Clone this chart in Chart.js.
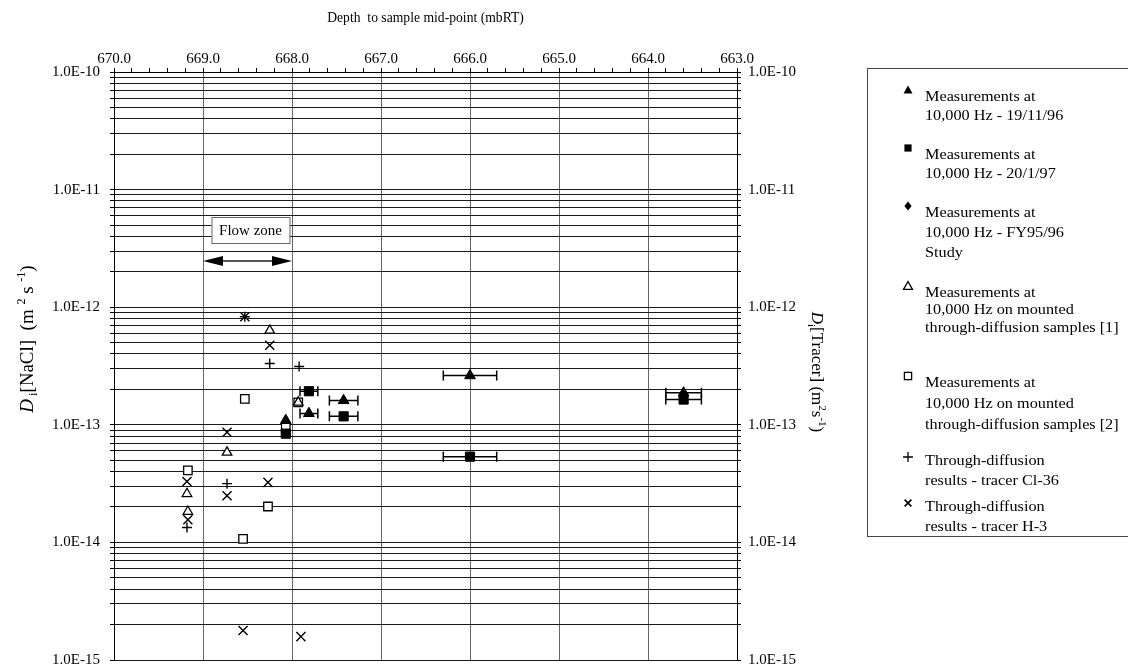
<!DOCTYPE html>
<html lang="en">
<head>
  <meta charset="UTF-8" />
  <title>Diffusion coefficient vs depth</title>
  <script src="https://cdn.jsdelivr.net/npm/chart.js"></script>
  <style>
    html, body { margin: 0; padding: 0; background: #fff; }
    canvas { display: block; }
  </style>
</head>
<body>
  <canvas id="chart" width="1128" height="668"></canvas>

  <script>
    // depth (mbRT), diffusion coefficient (m2/s), depth error bar half width
    const tri1Depth = [668.07, 667.81, 667.42, 666.0, 663.6];
    const tri1Value = [1.09e-13, 1.25e-13, 1.61e-13, 2.62e-13, 1.87e-13];
    const tri1Err   = [0, 0.1, 0.16, 0.3, 0.2];

    const sq1Depth = [668.07, 667.81, 667.42, 666.0, 663.6];
    const sq1Value = [8.41e-14, 1.93e-13, 1.18e-13, 5.36e-14, 1.64e-13];
    const sq1Err   = [0, 0.1, 0.16, 0.3, 0.2];

    const diaDepth = [];
    const diaValue = [];

    const triOpenDepth = [668.25, 667.93, 668.73, 669.18, 669.17];
    const triOpenValue = [6.34e-13, 1.55e-13, 5.83e-14, 2.59e-14, 1.83e-14];

    const sqOpenDepth = [668.53, 667.93, 668.07, 669.17, 668.27, 668.55];
    const sqOpenValue = [1.66e-13, 1.55e-13, 9.46e-14, 4.09e-14, 2.02e-14, 1.07e-14];

    const clDepth = [668.53, 668.25, 667.92, 668.73, 669.18];
    const clValue = [8.30e-13, 3.32e-13, 3.13e-13, 3.16e-14, 1.34e-14];

    const h3Depth = [668.53, 668.25, 668.73, 669.18, 669.17, 668.73, 668.27, 668.55, 667.9];
    const h3Value = [8.30e-13, 4.75e-13, 8.63e-14, 3.30e-14, 1.56e-14, 2.49e-14, 3.24e-14, 1.78e-15, 1.58e-15];

    const depthMin = 663, depthMax = 670;
    const valueMin = 1e-15, valueMax = 1e-10;

    const flowZone = [669, 668];
    const flowLabel = 'Flow zone';

    const legendLabels = [
      ['Measurements at', '10,000 Hz - 19/11/96'],
      ['Measurements at', '10,000 Hz - 20/1/97'],
      ['Measurements at', '10,000 Hz - FY95/96', 'Study'],
      ['Measurements at', '10,000 Hz on mounted', 'through-diffusion samples [1]'],
      ['Measurements at', '10,000 Hz on mounted', 'through-diffusion samples [2]'],
      ['Through-diffusion', 'results - tracer Cl-36'],
      ['Through-diffusion', 'results - tracer H-3']
    ];
    const legendMarkers = ['triFill', 'rectFill', 'diamond', 'triOpen', 'rectOpen', 'plus', 'cross'];

    const xTitle = 'Depth  to sample mid-point (mbRT)';

    const pts = (xs, ys) => xs.map((x, i) => ({ x: x, y: ys[i] }));
    const isInt = v => Math.abs(v - Math.round(v)) < 1e-6;
    const FONT = '"Liberation Serif", "Times New Roman", serif';

    function logTicks() {
      const t = [];
      for (let e = -15; e <= -10; e++) {
        for (let m = 1; m <= 9; m++) {
          if (e === -10 && m > 1) break;
          t.push({ value: Number(m + 'e' + e) });
        }
      }
      return t;
    }
    function logLabel(v) {
      const m = v / Math.pow(10, Math.floor(Math.log10(v) + 1e-9));
      if (Math.abs(m - 1) > 1e-6) return '';
      return v.toExponential(1).toUpperCase();
    }

    function drawMarker(ctx, type, x, y, s) {
      ctx.save();
      ctx.fillStyle = '#000';
      ctx.strokeStyle = '#000';
      ctx.lineWidth = 1.3;
      ctx.beginPath();
      if (type === 'triFill' || type === 'triOpen') {
        ctx.moveTo(x, y - s);
        ctx.lineTo(x + s, y + s * 0.75);
        ctx.lineTo(x - s, y + s * 0.75);
        ctx.closePath();
      } else if (type === 'rectFill' || type === 'rectOpen') {
        ctx.rect(x - s * 0.8, y - s * 0.8, s * 1.6, s * 1.6);
      } else if (type === 'diamond') {
        ctx.moveTo(x, y - s);
        ctx.lineTo(x + s * 0.8, y);
        ctx.lineTo(x, y + s);
        ctx.lineTo(x - s * 0.8, y);
        ctx.closePath();
      } else if (type === 'plus') {
        ctx.moveTo(x - s, y); ctx.lineTo(x + s, y);
        ctx.moveTo(x, y - s); ctx.lineTo(x, y + s);
      } else if (type === 'cross') {
        ctx.lineWidth = 1.6;
        const d = s * 0.75;
        ctx.moveTo(x - d, y - d); ctx.lineTo(x + d, y + d);
        ctx.moveTo(x + d, y - d); ctx.lineTo(x - d, y + d);
      }
      if (type === 'triFill' || type === 'rectFill' || type === 'diamond') ctx.fill();
      else if (type === 'triOpen' || type === 'rectOpen') { ctx.fillStyle = '#fff'; ctx.fill(); ctx.stroke(); }
      else ctx.stroke();
      ctx.restore();
    }

    // rich text with italic / sub / sup pieces, optionally rotated
    function drawRich(ctx, segs, cx, cy, angle, size) {
      const fontOf = s => (s.italic ? 'italic ' : '') + ((s.sub || s.sup) ? Math.round(size * 0.65) : size) + 'px ' + FONT;
      let w = 0;
      segs.forEach(s => { ctx.font = fontOf(s); s.w = ctx.measureText(s.t).width; w += s.w; });
      ctx.save();
      ctx.translate(cx, cy);
      ctx.rotate(angle);
      ctx.fillStyle = '#000';
      ctx.textBaseline = 'alphabetic';
      let x = -w / 2;
      const base = size * 0.35;
      segs.forEach(s => {
        ctx.font = fontOf(s);
        const dy = s.sub ? size * 0.25 : (s.sup ? -size * 0.42 : 0);
        ctx.fillText(s.t, x, base + dy);
        x += s.w;
      });
      ctx.restore();
    }

    const decor = {
      id: 'decor',
      beforeDatasetsDraw(chart) {
        const ctx = chart.ctx;
        const xs = chart.scales.x, ys = chart.scales.y;
        ctx.save();
        ctx.strokeStyle = '#000';
        ctx.lineWidth = 1.5;
        const bars = (d, v, e) => {
          d.forEach((dd, i) => {
            if (!e[i]) return;
            const x1 = xs.getPixelForValue(dd - e[i]);
            const x2 = xs.getPixelForValue(dd + e[i]);
            const y = ys.getPixelForValue(v[i]);
            ctx.beginPath();
            ctx.moveTo(x1, y); ctx.lineTo(x2, y);
            ctx.moveTo(x1, y - 5); ctx.lineTo(x1, y + 5);
            ctx.moveTo(x2, y - 5); ctx.lineTo(x2, y + 5);
            ctx.stroke();
          });
        };
        bars(tri1Depth, tri1Value, tri1Err);
        bars(sq1Depth, sq1Value, sq1Err);
        ctx.restore();
      },
      afterDraw(chart) {
        const ctx = chart.ctx;
        const xs = chart.scales.x;

        // flow zone box + double arrow
        const xa = xs.getPixelForValue(flowZone[0]);
        const xb = xs.getPixelForValue(flowZone[1]);
        const ay = 261;
        ctx.save();
        ctx.strokeStyle = '#555';
        ctx.lineWidth = 2;
        ctx.beginPath();
        ctx.moveTo(xa + 16, ay); ctx.lineTo(xb - 16, ay);
        ctx.stroke();
        ctx.fillStyle = '#000';
        ctx.beginPath();
        ctx.moveTo(xa, ay); ctx.lineTo(xa + 20, ay - 5); ctx.lineTo(xa + 20, ay + 5); ctx.closePath();
        ctx.moveTo(xb, ay); ctx.lineTo(xb - 20, ay - 5); ctx.lineTo(xb - 20, ay + 5); ctx.closePath();
        ctx.fill();
        const bx = (xa + xb) / 2 + 3;
        ctx.fillStyle = '#fff';
        ctx.fillRect(bx - 39, 217, 78, 26);
        ctx.strokeStyle = '#666';
        ctx.lineWidth = 1;
        ctx.strokeRect(bx - 39 + 0.5, 217.5, 78, 26);
        ctx.fillStyle = '#000';
        ctx.font = '15px ' + FONT;
        ctx.textAlign = 'center';
        ctx.textBaseline = 'middle';
        ctx.fillText(flowLabel, bx, 231);
        ctx.restore();

        // axis titles
        ctx.save();
        ctx.font = '13px ' + FONT;
        ctx.fillStyle = '#000';
        ctx.textAlign = 'center';
        ctx.textBaseline = 'middle';
        ctx.translate((chart.chartArea.left + chart.chartArea.right) / 2, 18);
        ctx.scale(1.05, 1.08);
        ctx.fillText(xTitle, 0, 0);
        ctx.restore();

        drawRich(ctx, [
          { t: 'D', italic: true }, { t: ' i', sub: true }, { t: '[NaCl]  (m ' },
          { t: '2', sup: true }, { t: ' s ' }, { t: '-1', sup: true }, { t: ')' }
        ], 26, 339, -Math.PI / 2, 19);
        drawRich(ctx, [
          { t: 'D', italic: true }, { t: 'i', sub: true }, { t: '[Tracer] (m' },
          { t: '2', sup: true }, { t: 's' }, { t: '-1', sup: true }, { t: ')' }
        ], 818, 372, Math.PI / 2, 17);

        // legend
        ctx.save();
        ctx.strokeStyle = '#444';
        ctx.lineWidth = 1;
        ctx.strokeRect(867.5, 68.5, 262, 468);
        const firstLine = [97, 155, 213, 293, 383, 461, 507];
        const lineGap = [19.5, 19.5, 20, 17.5, 21, 20, 20];
        ctx.textBaseline = 'middle';
        ctx.textAlign = 'left';
        legendLabels.forEach((lines, i) => {
          const m = legendMarkers[i];
          const my = (m === 'plus' || m === 'cross') ? firstLine[i] - 4 : firstLine[i] - 7;
          drawMarker(ctx, m, 908, my, m === 'plus' ? 5 : 4.5);
          lines.forEach((ln, j) => {
            ctx.save();
            ctx.font = '14px ' + FONT;
            ctx.translate(925, firstLine[i] + j * lineGap[i]);
            ctx.scale(1.16, 1);
            ctx.fillStyle = '#000';
            ctx.fillText(ln, 0, 0);
            ctx.restore();
          });
        });
        ctx.restore();
      }
    };

    Chart.defaults.font.family = FONT;
    Chart.defaults.color = '#000';

    const ctx = document.getElementById('chart').getContext('2d');
    new Chart(ctx, {
      type: 'scatter',
      data: {
        datasets: [
          {
            label: 'Measurements at 10,000 Hz - 19/11/96',
            data: pts(tri1Depth, tri1Value),
            pointStyle: 'triangle', pointRadius: 6.2,
            backgroundColor: '#000', borderColor: '#000', borderWidth: 1
          },
          {
            label: 'Measurements at 10,000 Hz - 20/1/97',
            data: pts(sq1Depth, sq1Value),
            pointStyle: 'rect', pointRadius: 6.5,
            backgroundColor: '#000', borderColor: '#000', borderWidth: 1
          },
          {
            label: 'Measurements at 10,000 Hz - FY95/96 Study',
            data: pts(diaDepth, diaValue),
            pointStyle: 'rectRot', pointRadius: 5,
            backgroundColor: '#000', borderColor: '#000'
          },
          {
            label: 'Measurements at 10,000 Hz on mounted through-diffusion samples [1]',
            data: pts(triOpenDepth, triOpenValue),
            pointStyle: 'triangle', pointRadius: 5.5,
            backgroundColor: '#fff', borderColor: '#000', borderWidth: 1.3
          },
          {
            label: 'Measurements at 10,000 Hz on mounted through-diffusion samples [2]',
            data: pts(sqOpenDepth, sqOpenValue),
            pointStyle: 'rect', pointRadius: 6,
            backgroundColor: '#fff', borderColor: '#000', borderWidth: 1.3
          },
          {
            label: 'Through-diffusion results - tracer Cl-36',
            data: pts(clDepth, clValue),
            pointStyle: 'cross', pointRadius: 5,
            borderColor: '#000', borderWidth: 1.4
          },
          {
            label: 'Through-diffusion results - tracer H-3',
            data: pts(h3Depth, h3Value),
            pointStyle: 'crossRot', pointRadius: 6.4,
            borderColor: '#000', borderWidth: 1.4
          }
        ]
      },
      options: {
        responsive: false,
        animation: false,
        layout: { padding: { left: 0, right: 261, top: 0, bottom: 8 } },
        plugins: {
          legend: { display: false },
          tooltip: { enabled: false }
        },
        elements: { point: { hoverRadius: 6 } },
        scales: {
          x: {
            type: 'linear',
            position: 'top',
            reverse: true,
            min: depthMin,
            max: depthMax,
            afterBuildTicks: s => {
              const t = [];
              for (let i = 0; i <= 35; i++) t.push({ value: depthMin + i * 0.2 });
              s.ticks = t;
            },
            afterFit: s => { s.height = 72; s.paddingLeft = 0; s.paddingRight = 0; },
            grid: {
              color: c => (c.tick && isInt(c.tick.value)) ? '#666' : 'rgba(0,0,0,0)',
              tickColor: '#000',
              tickLength: 4,
              lineWidth: 1
            },
            border: { display: true, color: '#000', width: 1 },
            ticks: {
              autoSkip: false,
              maxRotation: 0,
              padding: 0,
              font: { size: 15 },
              callback: v => isInt(v) ? Number(v).toFixed(1) : ''
            }
          },
          y: {
            type: 'logarithmic',
            position: 'left',
            min: valueMin,
            max: valueMax,
            afterBuildTicks: s => { s.ticks = logTicks(); },
            afterFit: s => { s.width = 114; s.paddingTop = 0; s.paddingBottom = 0; },
            grid: { color: '#1a1a1a', tickColor: '#000', tickLength: 4, lineWidth: 1 },
            border: { display: true, color: '#000', width: 1 },
            ticks: { autoSkip: false, padding: 10, font: { size: 15 }, callback: v => logLabel(v) }
          },
          y2: {
            type: 'logarithmic',
            position: 'right',
            min: valueMin,
            max: valueMax,
            afterBuildTicks: s => { s.ticks = logTicks(); },
            afterFit: s => { s.width = 130; s.paddingTop = 0; s.paddingBottom = 0; },
            grid: { drawOnChartArea: false, tickColor: '#000', tickLength: 4 },
            border: { display: true, color: '#000', width: 1 },
            ticks: { autoSkip: false, padding: 7, font: { size: 15 }, callback: v => logLabel(v) }
          }
        }
      },
      plugins: [decor]
    });
  </script>
</body>
</html>
